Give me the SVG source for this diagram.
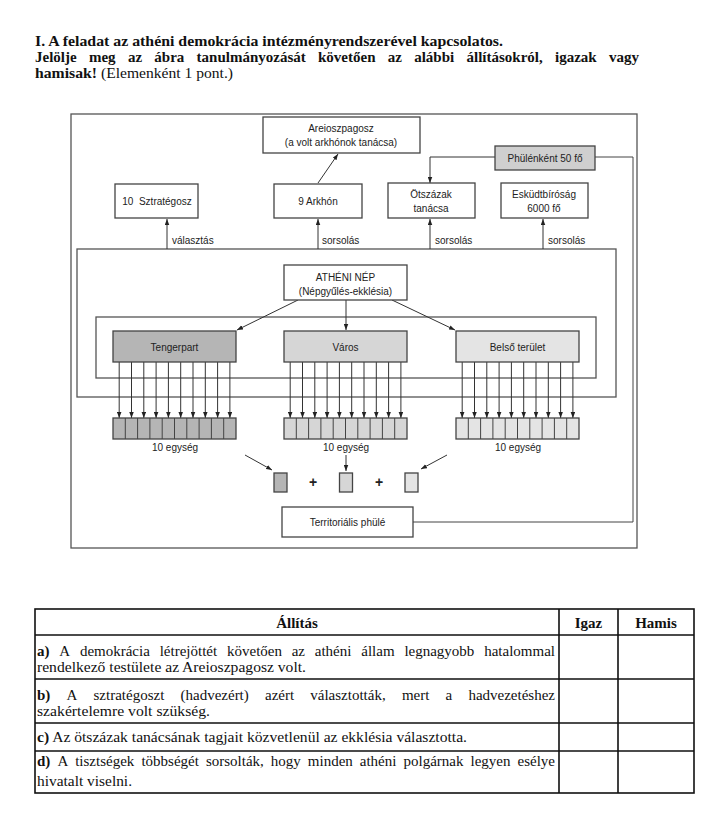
<svg xmlns="http://www.w3.org/2000/svg" width="720" height="813" viewBox="0 0 720 813">
<defs>
<style>
.hd{font-family:"Liberation Serif","DejaVu Serif",serif;font-size:15px;fill:#111}
.b{font-weight:bold}
.t{font-family:"Liberation Serif","DejaVu Serif",serif;font-size:15px;fill:#111}
.d{font-family:"Liberation Sans",Arial,sans-serif;font-size:10px;fill:#222}
.m{text-anchor:middle}
.box{fill:#fff;stroke:#444;stroke-width:1.3}
.frame{fill:none;stroke:#555;stroke-width:1.3}
.ln{fill:none;stroke:#444;stroke-width:1}
.arr{fill:none;stroke:#333;stroke-width:1;marker-end:url(#ah)}
.tbl{fill:none;stroke:#111;stroke-width:1.6}
.g1{fill:#b5b5b5}
.g2{fill:#d6d6d6}
.g3{fill:#e4e4e4}
</style>
<marker id="ah" viewBox="0 0 8 6" refX="8" refY="3" markerWidth="6" markerHeight="5" orient="auto" markerUnits="userSpaceOnUse"><path d="M0,0 L8,3 L0,6 z" fill="#222"/></marker>
</defs>
<rect width="720" height="813" fill="#fff"/>

<g id="header">
<text class="hd b" x="35" y="46" textLength="468" lengthAdjust="spacingAndGlyphs">I. A feladat az athéni demokrácia intézményrendszerével kapcsolatos.</text>
<text class="hd b" y="62"><tspan x="35">Jelölje</tspan><tspan x="88.9">meg</tspan><tspan x="127.9">az</tspan><tspan x="154.3">ábra</tspan><tspan x="196.6">tanulmányozását</tspan><tspan x="318">követően</tspan><tspan x="387.8">az</tspan><tspan x="414.2">alábbi</tspan><tspan x="466.5">állításokról,</tspan><tspan x="555">igazak</tspan><tspan x="609">vagy</tspan></text>
<text class="hd b" x="35" y="78" textLength="62" lengthAdjust="spacingAndGlyphs">hamisak!</text>
<text class="hd" x="101" y="78" textLength="132" lengthAdjust="spacingAndGlyphs">(Elemenként 1 pont.)</text>
</g>

<g id="frames">
<rect class="frame" x="71" y="114" width="566" height="434" stroke-width="1.6"/>
<rect class="frame" x="77" y="249" width="539" height="148"/>
<rect class="frame" x="96" y="317" width="500" height="61"/>
</g>

<g id="connectors">
<line class="arr" x1="318" y1="183" x2="338" y2="154"/>
<line class="arr" x1="167" y1="249" x2="167" y2="219"/>
<line class="arr" x1="318" y1="249" x2="318" y2="219"/>
<line class="arr" x1="430" y1="249" x2="430" y2="219"/>
<line class="arr" x1="543" y1="249" x2="543" y2="219"/>
<polyline class="arr" points="495,157 430,157 430,183"/>
<polyline class="ln" points="595,157 633,157 633,522 413,522"/>
<line class="arr" x1="298" y1="300" x2="237" y2="330"/>
<line class="arr" x1="346" y1="300" x2="346" y2="330"/>
<line class="arr" x1="392" y1="300" x2="455" y2="330"/>
<g id="tlines">
<line class="arr" x1="119.2" y1="362" x2="119.2" y2="418"/>
<line class="arr" x1="131.5" y1="362" x2="131.5" y2="418"/>
<line class="arr" x1="143.8" y1="362" x2="143.8" y2="418"/>
<line class="arr" x1="156.1" y1="362" x2="156.1" y2="418"/>
<line class="arr" x1="168.4" y1="362" x2="168.4" y2="418"/>
<line class="arr" x1="180.7" y1="362" x2="180.7" y2="418"/>
<line class="arr" x1="193.0" y1="362" x2="193.0" y2="418"/>
<line class="arr" x1="205.3" y1="362" x2="205.3" y2="418"/>
<line class="arr" x1="217.6" y1="362" x2="217.6" y2="418"/>
<line class="arr" x1="229.9" y1="362" x2="229.9" y2="418"/>
<line class="arr" x1="290.2" y1="362" x2="290.2" y2="418"/>
<line class="arr" x1="302.5" y1="362" x2="302.5" y2="418"/>
<line class="arr" x1="314.8" y1="362" x2="314.8" y2="418"/>
<line class="arr" x1="327.1" y1="362" x2="327.1" y2="418"/>
<line class="arr" x1="339.4" y1="362" x2="339.4" y2="418"/>
<line class="arr" x1="351.7" y1="362" x2="351.7" y2="418"/>
<line class="arr" x1="364.0" y1="362" x2="364.0" y2="418"/>
<line class="arr" x1="376.3" y1="362" x2="376.3" y2="418"/>
<line class="arr" x1="388.6" y1="362" x2="388.6" y2="418"/>
<line class="arr" x1="400.9" y1="362" x2="400.9" y2="418"/>
<line class="arr" x1="462.2" y1="362" x2="462.2" y2="418"/>
<line class="arr" x1="474.5" y1="362" x2="474.5" y2="418"/>
<line class="arr" x1="486.8" y1="362" x2="486.8" y2="418"/>
<line class="arr" x1="499.1" y1="362" x2="499.1" y2="418"/>
<line class="arr" x1="511.4" y1="362" x2="511.4" y2="418"/>
<line class="arr" x1="523.7" y1="362" x2="523.7" y2="418"/>
<line class="arr" x1="536.0" y1="362" x2="536.0" y2="418"/>
<line class="arr" x1="548.3" y1="362" x2="548.3" y2="418"/>
<line class="arr" x1="560.6" y1="362" x2="560.6" y2="418"/>
<line class="arr" x1="572.9" y1="362" x2="572.9" y2="418"/>
</g>
<line class="arr" x1="245" y1="455" x2="272" y2="470"/>
<line class="arr" x1="346" y1="455" x2="346" y2="471"/>
<line class="arr" x1="447" y1="455" x2="421" y2="469"/>
</g>

<g id="areioszpagosz">
<rect class="box" x="263" y="117" width="157" height="36"/>
<text class="d m" x="341" y="132">Areioszpagosz</text>
<text class="d m" x="341" y="146">(a volt arkhónok tanácsa)</text>
</g>
<g id="phule50">
<rect class="box" x="495" y="146" width="100" height="24" style="fill:#cfcfcf"/>
<text class="d m" x="545" y="162">Phülénként 50 fő</text>
</g>
<g id="sztrategosz">
<rect class="box" x="115" y="184" width="83" height="34"/>
<text class="d m" x="157" y="205" xml:space="preserve">10  Sztratégosz</text>
</g>
<g id="arkhon">
<rect class="box" x="274" y="184" width="88" height="34"/>
<text class="d m" x="318" y="205">9 Arkhón</text>
</g>
<g id="otszazak">
<rect class="box" x="388" y="183" width="87" height="35"/>
<text class="d m" x="431" y="198">Ötszázak</text>
<text class="d m" x="431" y="212">tanácsa</text>
</g>
<g id="eskudt">
<rect class="box" x="501" y="183" width="87" height="35"/>
<text class="d m" x="544" y="198">Esküdtbíróság</text>
<text class="d m" x="544" y="212">6000 fő</text>
</g>
<g id="labels">
<text class="d" x="172" y="244">választás</text>
<text class="d" x="322" y="244">sorsolás</text>
<text class="d" x="435" y="244">sorsolás</text>
<text class="d" x="548" y="244">sorsolás</text>
</g>
<g id="atheni-nep">
<rect class="box" x="284" y="265" width="123" height="35"/>
<text class="d m" x="345.5" y="281">ATHÉNI NÉP</text>
<text class="d m" x="345.5" y="295">(Népgyűlés-ekklésia)</text>
</g>
<g id="tengerpart">
<rect class="box g1" x="113" y="331" width="123" height="31"/>
<text class="d m" x="174.5" y="351">Tengerpart</text>
</g>
<g id="varos">
<rect class="box g2" x="284" y="331" width="123" height="31"/>
<text class="d m" x="345.5" y="351">Város</text>
</g>
<g id="belso">
<rect class="box g3" x="456" y="331" width="123" height="31"/>
<text class="d m" x="517.5" y="351">Belső terület</text>
</g>

<g id="units-t">
<rect class="box g1" x="113" y="418" width="123" height="21"/>
<path class="ln" d="M125.3,418v21M137.6,418v21M149.9,418v21M162.2,418v21M174.5,418v21M186.8,418v21M199.1,418v21M211.4,418v21M223.7,418v21"/>
<text class="d m" x="175" y="451">10 egység</text>
</g>
<g id="units-v">
<rect class="box g2" x="284" y="418" width="123" height="21"/>
<path class="ln" d="M296.3,418v21M308.6,418v21M320.9,418v21M333.2,418v21M345.5,418v21M357.8,418v21M370.1,418v21M382.4,418v21M394.7,418v21"/>
<text class="d m" x="346" y="451">10 egység</text>
</g>
<g id="units-b">
<rect class="box g3" x="456" y="418" width="123" height="21"/>
<path class="ln" d="M468.3,418v21M480.6,418v21M492.9,418v21M505.2,418v21M517.5,418v21M529.8,418v21M542.1,418v21M554.4,418v21M566.7,418v21"/>
<text class="d m" x="518" y="451">10 egység</text>
</g>
<g id="sum">
<rect class="box g1" x="274" y="473" width="13" height="19"/>
<text class="d m" x="313" y="487" style="font-size:14px;font-weight:bold">+</text>
<rect class="box g2" x="339.5" y="473" width="13" height="19"/>
<text class="d m" x="379" y="487" style="font-size:14px;font-weight:bold">+</text>
<rect class="box g3" x="405" y="473" width="13" height="19"/>
</g>
<g id="territorialis">
<rect class="box" x="282" y="507" width="131" height="30"/>
<text class="d m" x="347.5" y="526">Territoriális phülé</text>
</g>

<g id="table">
<rect class="tbl" x="35" y="609" width="659" height="184"/>
<path class="tbl" d="M35,635H694M35,679H694M35,723H694M35,751H694M559,609V793M618,609V793"/>
<text class="t b m" x="297" y="628">Állítás</text>
<text class="t b m" x="588.5" y="628">Igaz</text>
<text class="t b m" x="656" y="628">Hamis</text>
<text class="t" y="656"><tspan x="37" class="b">a)</tspan><tspan x="59.3">A</tspan><tspan x="79.9">demokrácia</tspan><tspan x="159.7">létrejöttét</tspan><tspan x="227">követően</tspan><tspan x="291.7">az</tspan><tspan x="314.8">athéni</tspan><tspan x="361.3">állam</tspan><tspan x="404.4">legnagyobb</tspan><tspan x="484.2">hatalommal</tspan></text>
<text class="t" x="37" y="672" textLength="269" lengthAdjust="spacingAndGlyphs">rendelkező testülete az Areioszpagosz volt.</text>
<text class="t" y="700"><tspan x="37" class="b">b)</tspan><tspan x="66.5">A</tspan><tspan x="93.5">sztratégoszt</tspan><tspan x="180.5">(hadvezért)</tspan><tspan x="265">azért</tspan><tspan x="310.3">választották,</tspan><tspan x="401.9">mert</tspan><tspan x="445.5">a</tspan><tspan x="468.4">hadvezetéshez</tspan></text>
<text class="t" x="37" y="716" textLength="173" lengthAdjust="spacingAndGlyphs">szakértelemre volt szükség.</text>
<text class="t" x="37" y="742" textLength="430" lengthAdjust="spacingAndGlyphs"><tspan class="b">c)</tspan> Az ötszázak tanácsának tagjait közvetlenül az ekklésia választotta.</text>
<text class="t" y="766"><tspan x="37" class="b">d)</tspan><tspan x="57.4">A</tspan><tspan x="75.2">tisztségek</tspan><tspan x="141.4">többségét</tspan><tspan x="205.9">sorsolták,</tspan><tspan x="270.8">hogy</tspan><tspan x="307.8">minden</tspan><tspan x="359.8">athéni</tspan><tspan x="403.5">polgárnak</tspan><tspan x="470.5">legyen</tspan><tspan x="517.5">esélye</tspan></text>
<text class="t" x="37" y="786" textLength="95" lengthAdjust="spacingAndGlyphs">hivatalt viselni.</text>
</g>
</svg>
